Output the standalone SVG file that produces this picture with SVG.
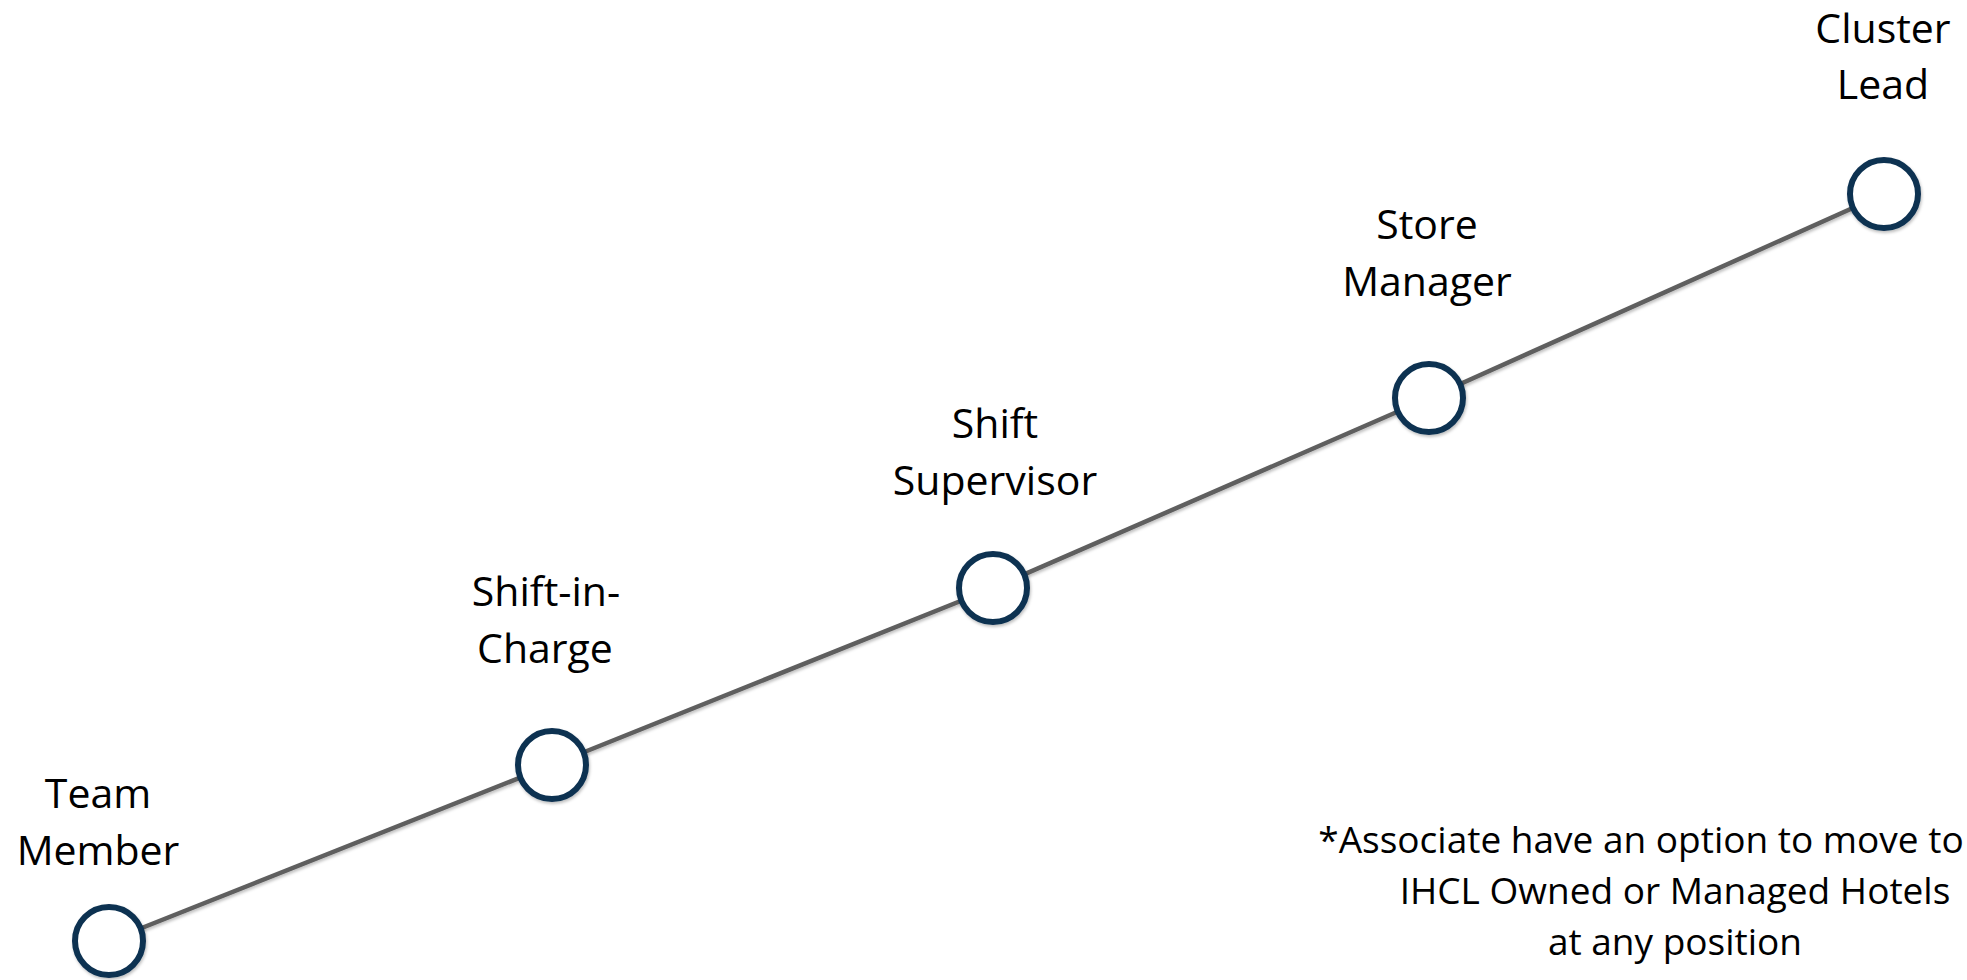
<svg xmlns="http://www.w3.org/2000/svg" width="1967" height="980" viewBox="0 0 1967 980">
  <defs>
    <filter id="sh" x="-20%" y="-20%" width="140%" height="140%">
      <feDropShadow dx="1" dy="2" stdDeviation="1.5" flood-color="#000" flood-opacity="0.25"/>
    </filter>
    <style>
      .lbl { font-family: "Open Sans", "Liberation Sans", sans-serif; font-size: 41px; fill: #000; text-anchor: middle; }
      .note { font-family: "Open Sans", "Liberation Sans", sans-serif; font-size: 37px; fill: #000; text-anchor: middle; }
      .node { fill: #ffffff; stroke: #0c3151; stroke-width: 6; }
      .conn { fill: none; stroke: #5e5e5e; stroke-width: 4.5; }
    </style>
  </defs>
  <rect width="1967" height="980" fill="#ffffff"/>
  <g id="connectors" filter="url(#sh)">
    <polyline class="conn" points="109,941 552,765 993,588 1429,398 1884,194"/>
  </g>
  <g id="team-member">
    <circle class="node" cx="109" cy="941" r="34" filter="url(#sh)"/>
    <text class="lbl" x="98" y="808">Team</text>
    <text class="lbl" x="98" y="865">Member</text>
  </g>
  <g id="shift-in-charge">
    <circle class="node" cx="552" cy="765" r="34" filter="url(#sh)"/>
    <text class="lbl" x="546" y="606">Shift-in-</text>
    <text class="lbl" x="545" y="663">Charge</text>
  </g>
  <g id="shift-supervisor">
    <circle class="node" cx="993" cy="588" r="34" filter="url(#sh)"/>
    <text class="lbl" x="995" y="438">Shift</text>
    <text class="lbl" x="995" y="495">Supervisor</text>
  </g>
  <g id="store-manager">
    <circle class="node" cx="1429" cy="398" r="34" filter="url(#sh)"/>
    <text class="lbl" x="1427" y="239">Store</text>
    <text class="lbl" x="1427" y="296">Manager</text>
  </g>
  <g id="cluster-lead">
    <circle class="node" cx="1884" cy="194" r="34" filter="url(#sh)"/>
    <text class="lbl" x="1883" y="43">Cluster</text>
    <text class="lbl" x="1883" y="99">Lead</text>
  </g>
  <g id="footnote">
    <text class="note" x="1641" y="853">*Associate have an option to move to</text>
    <text class="note" x="1675" y="904">IHCL Owned or Managed Hotels</text>
    <text class="note" x="1675" y="955">at any position</text>
  </g>
</svg>
